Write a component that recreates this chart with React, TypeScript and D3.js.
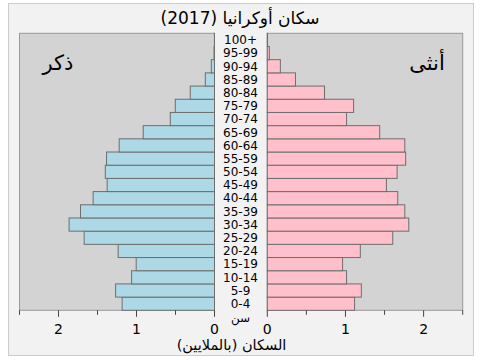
import React from "react";
import * as d3 from "d3";

const ageGroups = ["0-4","5-9","10-14","15-19","20-24","25-29","30-34","35-39","40-44","45-49","50-54","55-59","60-64","65-69","70-74","75-79","80-84","85-89","90-94","95-99","100+"];
const male = [1.184,1.268,1.063,1.004,1.235,1.671,1.864,1.718,1.556,1.376,1.400,1.384,1.222,0.914,0.567,0.503,0.311,0.118,0.041,0.006,0.001];
const female = [1.117,1.203,1.014,0.963,1.190,1.605,1.810,1.759,1.669,1.524,1.661,1.770,1.759,1.438,1.014,1.104,0.732,0.360,0.167,0.026,0.003];
const ticks = [0, 0.5, 1, 1.5, 2, 2.5];
const majorTicks = [0, 1, 2];
const title = "سكان أوكرانيا (2017)";
const maleLabel = "ذكر";
const femaleLabel = "أنثى";
const ageLabel = "سن";
const xLabel = "السكان (بالملايين)";

export default function App() {
  const W = 480, H = 360;
  const top = 33.3, bottom = 310.3;
  const xL = d3.scaleLinear().domain([0, 2.5]).range([214.5, 19.5]);
  const xR = d3.scaleLinear().domain([0, 2.5]).range([267.3, 462.7]);
  const y = d3.scaleBand<string>().domain([...ageGroups].reverse()).range([top, bottom]).padding(0);
  const font = "DejaVu Sans, sans-serif";
  const isMajor = (t: number) => majorTicks.includes(t);
  return (
    <svg width={W} height={H} style={{ position: "absolute", left: 0, top: 0 }} fontFamily={font}>
      <rect x={0} y={0} width={W} height={H} fill="#ffffff" />
      <rect x={8.5} y={3.5} width={465} height={352} fill="#f2f2f2" stroke="#cccccc" />
      <text x={240} y={24} textAnchor="middle" fontSize={17} fill="#000">{title}</text>
      <rect x={xL(2.5)} y={top} width={xL(0) - xL(2.5)} height={bottom - top} fill="#d3d3d3" stroke="#999" />
      <rect x={xR(0)} y={top} width={xR(2.5) - xR(0)} height={bottom - top} fill="#d3d3d3" stroke="#999" />
      {ageGroups.map((g, i) => (
        <g key={g}>
          <rect x={xL(male[i])} y={y(g)} width={xL(0) - xL(male[i])} height={y.bandwidth()} fill="#add8e6" stroke="#6e6e6e" strokeWidth={1} />
          <rect x={xR(0)} y={y(g)} width={xR(female[i]) - xR(0)} height={y.bandwidth()} fill="#ffc0cb" stroke="#6e6e6e" strokeWidth={1} />
          <text x={240.5} y={(y(g) as number) + y.bandwidth() / 2 + 4.3} textAnchor="middle" fontSize={12} fill="#000">{g}</text>
        </g>
      ))}
      <text x={58} y={70} textAnchor="middle" fontSize={21} fill="#000">{maleLabel}</text>
      <text x={427} y={70} textAnchor="middle" fontSize={21} fill="#000">{femaleLabel}</text>
      {ticks.map((t) => (
        <g key={"t" + t}>
          <line x1={xL(t)} x2={xL(t)} y1={bottom} y2={bottom + (isMajor(t) ? 6.5 : 4.5)} stroke="#444" />
          <line x1={xR(t)} x2={xR(t)} y1={bottom} y2={bottom + (isMajor(t) ? 6.5 : 4.5)} stroke="#444" />
        </g>
      ))}
      {majorTicks.map((t) => (
        <g key={"l" + t}>
          <text x={xL(t)} y={334.3} textAnchor="middle" fontSize={14} fill="#000">{t}</text>
          <text x={xR(t)} y={334.3} textAnchor="middle" fontSize={14} fill="#000">{t}</text>
        </g>
      ))}
      <text x={240.5} y={322} textAnchor="middle" fontSize={12} fill="#000">{ageLabel}</text>
      <text x={231.5} y={350} textAnchor="middle" fontSize={14.5} fill="#000">{xLabel}</text>
    </svg>
  );
}
